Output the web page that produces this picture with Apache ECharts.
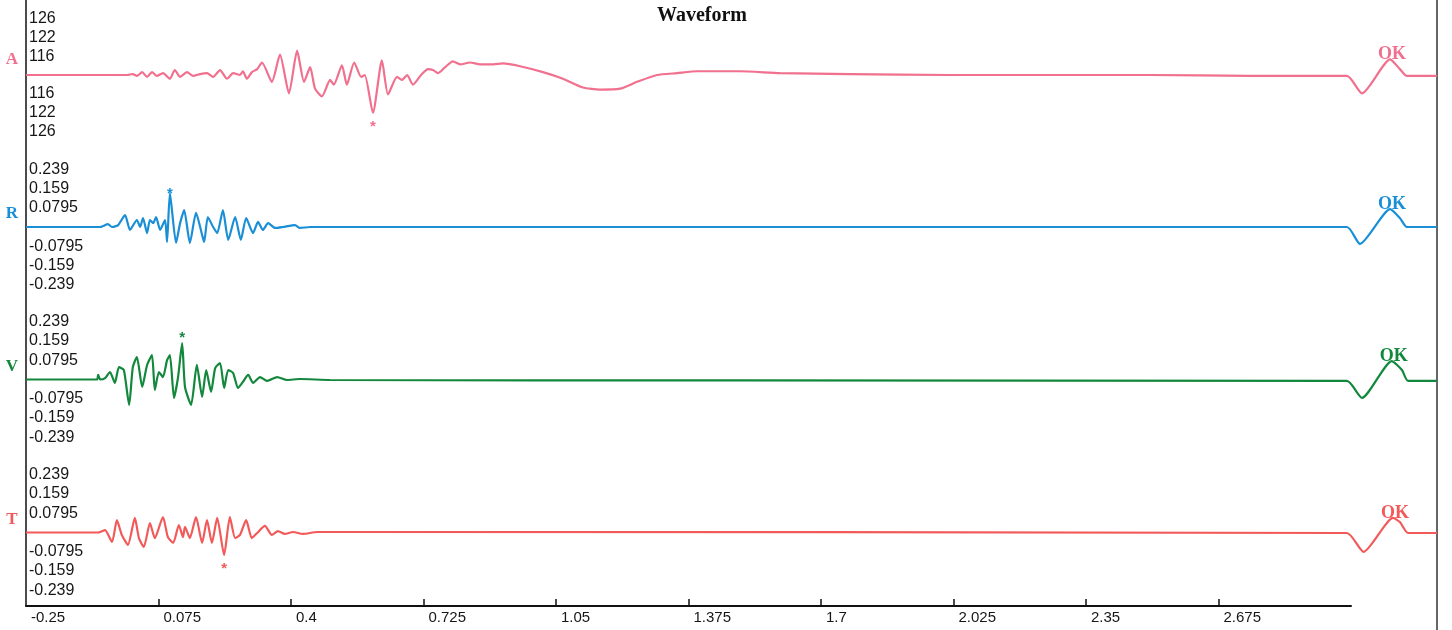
<!DOCTYPE html>
<html>
<head>
<meta charset="utf-8">
<script src="https://cdn.jsdelivr.net/npm/echarts@6/dist/echarts.min.js"></script>
<style>html,body{margin:0;padding:0;background:#fff}#c{width:1452px;height:630px}</style>
</head>
<body>
<div id="c"></div>
<script>
// ---------- data ----------
const channelNames = ['A', 'R', 'V', 'T'];
const channelColors = ['#f0708e', '#1a8fd6', '#13883d', '#f25a5a'];
const titleText = 'Waveform';
const okText = 'OK';
const starText = '*';

// x tick positions / labels (time)
const xLabelValues = [-0.25, 0.075, 0.4, 0.725, 1.05, 1.375, 1.7, 2.025, 2.35, 2.675];
const xTickValues = [0.075, 0.4, 0.725, 1.05, 1.375, 1.7, 2.025, 2.35, 2.675];
const xAxisMin = -0.25;
const xAxisMax = 3.0;
const waveXMax = 3.211;

// y tick positions and the labels printed at them
const yTickValues = [-0.2385, -0.159, -0.0795, 0.0795, 0.159, 0.2385];
const yRange = 0.318;
const aTickLabels = ['126', '122', '116', '116', '122', '126'];
const rvtTickLabels = ['-0.239', '-0.159', '-0.0795', '0.0795', '0.159', '0.239'];

const channelA = [
  [-0.25,0],[-0.002,0],[0.012,0.004],[0.022,-0.004],[0.035,0.012],[0.047,-0.008],[0.059,0.012],
  [0.071,-0.004],[0.086,0.008],[0.103,-0.016],[0.115,0.021],[0.128,-0.008],[0.145,0.012],[0.160,-0.004],
  [0.177,0.004],[0.194,0.008],[0.209,-0.008],[0.226,0.021],[0.243,-0.016],[0.258,0.008],[0.275,0],
  [0.282,0.016],[0.292,-0.016],[0.304,0.012],[0.317,0.025],[0.329,0.053],[0.353,-0.029],[0.373,0.086],
  [0.395,-0.078],[0.415,0.103],[0.432,-0.029],[0.447,0.033],[0.459,-0.058],[0.476,-0.091],[0.496,-0.021],
  [0.505,-0.041],[0.525,0.041],[0.537,-0.041],[0.555,0.053],[0.572,-0.008],[0.581,0],[0.601,-0.160],
  [0.623,0.062],[0.638,-0.082],[0.660,-0.008],[0.672,-0.021],[0.685,0],[0.699,-0.041],[0.721,0.004],
  [0.736,0.025],[0.748,0.021],[0.761,0.008],[0.778,0.033],[0.797,0.058],[0.815,0.045],[0.839,0.053],
  [0.864,0.045],[0.896,0.045],[0.920,0.049],[0.962,0.037],[1.018,0.012],[1.067,-0.016],[1.116,-0.053],
  [1.158,-0.062],[1.207,-0.058],[1.249,-0.029],[1.298,0],[1.347,0.008],[1.396,0.016],[1.428,0.016],
  [1.501,0.016],[1.599,0.008],[1.771,0.004],[2.016,0],[2.262,0],[2.507,0],[2.752,-0.004],[2.990,-0.004],
  [3.027,-0.078],[3.096,0.066],[3.120,0.025],[3.137,-0.004],[3.211,-0.004]
];
const channelR = [
  [-0.25,0],[-0.068,0],[-0.061,0.004],[-0.049,0.012],[-0.039,0],[-0.024,0.008],[-0.007,0.049],
  [0.005,-0.012],[0.022,0.029],[0.030,0],[0.037,0.037],[0.047,-0.025],[0.054,0.029],[0.062,0.016],
  [0.069,0.041],[0.079,-0.012],[0.091,0.029],[0.096,-0.062],[0.103,0.140],[0.118,-0.066],[0.128,0.016],
  [0.138,0.070],[0.152,-0.066],[0.167,0.058],[0.182,-0.033],[0.187,-0.062],[0.196,0.041],[0.209,0],
  [0.219,-0.025],[0.233,0.070],[0.246,-0.053],[0.263,0.041],[0.277,-0.053],[0.290,0.037],[0.307,-0.025],
  [0.319,0.021],[0.331,-0.012],[0.344,0.016],[0.361,-0.004],[0.380,0],[0.410,0.008],[0.422,-0.004],
  [0.447,0],[2.990,0],[3.022,-0.070],[3.096,0.074],[3.120,0.037],[3.137,0],[3.211,0]
];
const channelV = [
  [-0.25,0],[-0.076,0],[-0.073,0.019],[-0.068,0],[-0.056,0.006],[-0.044,0.031],[-0.032,-0.014],
  [-0.022,0.051],[-0.010,0.039],[0.003,-0.105],[0.012,0.051],[0.022,0.093],[0.035,-0.031],[0.047,0.060],
  [0.059,0.101],[0.066,-0.043],[0.076,0.031],[0.086,0.010],[0.096,0.080],[0.103,0.101],[0.113,-0.076],
  [0.123,0.010],[0.133,0.150],[0.140,-0.031],[0.155,-0.105],[0.169,0.060],[0.182,-0.072],[0.192,0.039],
  [0.204,-0.051],[0.214,0.047],[0.226,0.068],[0.236,-0.035],[0.246,0.039],[0.258,0.027],[0.270,-0.035],
  [0.282,-0.010],[0.295,0.019],[0.307,-0.014],[0.324,0.010],[0.341,-0.006],[0.366,0.010],[0.390,-0.002],
  [0.422,0.002],[0.496,-0.002],[1.500,-0.004],[2.990,-0.006],[3.027,-0.076],[3.100,0.076],[3.125,0.039],
  [3.140,-0.006],[3.211,-0.006]
];
const channelT = [
  [-0.25,0],[-0.073,0],[-0.068,0.002],[-0.056,0.010],[-0.039,-0.039],[-0.027,0.051],[-0.015,-0.010],
  [0.000,-0.051],[0.017,0.060],[0.027,-0.023],[0.039,-0.060],[0.054,0.039],[0.066,-0.023],[0.086,0.064],
  [0.098,-0.019],[0.111,-0.043],[0.125,0.031],[0.135,-0.019],[0.140,0.023],[0.152,-0.023],[0.167,0.064],
  [0.182,-0.043],[0.194,0.051],[0.206,-0.043],[0.219,0.060],[0.236,-0.093],[0.250,0.064],[0.263,-0.023],
  [0.275,-0.010],[0.290,0.051],[0.304,-0.023],[0.317,-0.002],[0.336,0.027],[0.353,-0.010],[0.368,0.006],
  [0.385,-0.006],[0.405,0.002],[0.429,-0.006],[0.464,0.002],[2.990,-0.002],[3.031,-0.080],[3.103,0.060],
  [3.120,0.043],[3.140,-0.002],[3.211,-0.002]
];
const channels = [channelA, channelR, channelV, channelT];
const tickLabelSets = [aTickLabels, rvtTickLabels, rvtTickLabels, rvtTickLabels];
const starIsMin = [true, false, false, true];

// ---------- layout ----------
const panelTops = [-4, 150, 302.5, 455.5];
const panelHeight = 154;
const plotLeft = 26;
const waveRight = 15;
const axisRight = 101;
const axisBottom = 24;

function fmtNum(v) { return String(parseFloat(v.toFixed(4))); }

const grids = [], xAxes = [], yAxes = [], series = [], graphics = [];
channels.forEach((data, i) => {
  const labels = tickLabelSets[i];
  grids.push({ left: plotLeft, right: waveRight, top: panelTops[i], height: panelHeight });
  xAxes.push({ type: 'value', gridIndex: i, min: xAxisMin, max: waveXMax, show: false });
  yAxes.push({
    type: 'value', gridIndex: i, min: -yRange, max: yRange,
    axisLine: { show: false }, axisTick: { show: false }, splitLine: { show: false },
    axisLabel: {
      inside: true, margin: 3, customValues: yTickValues,
      fontFamily: 'Liberation Sans', fontSize: 16, color: '#161616',
      formatter: (v) => {
        const k = yTickValues.findIndex(t => Math.abs(t - v) < 1e-6);
        return k >= 0 ? labels[k] : '';
      }
    }
  });
  let sIdx = 0, okIdx = 0;
  data.forEach((p, j) => {
    if (p[0] < 2.9) {
      if (starIsMin[i] ? p[1] < data[sIdx][1] : p[1] > data[sIdx][1]) sIdx = j;
    } else {
      if (okIdx === 0 || p[1] > data[okIdx][1]) okIdx = j;
    }
  });
  const col = channelColors[i];
  series.push({
    type: 'line', xAxisIndex: i, yAxisIndex: i, data: data,
    showSymbol: false, smooth: 0.2, lineStyle: { color: col, width: 2.2 },
    itemStyle: { color: col }, silent: true,
    markPoint: {
      symbol: 'circle', symbolSize: 1, itemStyle: { color: 'rgba(0,0,0,0)' }, silent: true,
      data: [
        { coord: data[sIdx], label: { show: true, formatter: starText, position: 'inside',
          offset: [0, starIsMin[i] ? 14 : (i === 2 ? -5 : 1)], color: col, fontSize: 15,
          fontFamily: 'Liberation Sans', fontWeight: 'bold' } },
        { coord: data[okIdx], label: { show: true, formatter: okText, position: 'inside',
          offset: [2, -5], color: col, fontSize: 18, fontFamily: 'Liberation Serif', fontWeight: 'bold' } }
      ]
    }
  });
  graphics.push({
    type: 'text', x: 12, y: panelTops[i] + panelHeight / 2 - 13,
    style: { text: channelNames[i], fill: col, font: 'bold 17px "Liberation Serif"',
      textAlign: 'center', textVerticalAlign: 'middle' }
  });
});

// bottom time axis grid (spans full height for the left axis line)
grids.push({ left: plotLeft, right: axisRight, top: 0, bottom: axisBottom });
xAxes.push({
  type: 'value', gridIndex: 4, min: xAxisMin, max: xAxisMax,
  axisLine: { show: true, lineStyle: { color: '#111', width: 2 } },
  axisTick: { show: true, inside: true, length: 7, customValues: xTickValues, lineStyle: { color: '#111', width: 1.5 } },
  splitLine: { show: false },
  axisLabel: { customValues: xLabelValues, align: 'left', margin: 4, padding: [0, 0, 0, 5],
    fontFamily: 'Liberation Sans', fontSize: 15, color: '#161616', formatter: fmtNum }
});
yAxes.push({
  type: 'value', gridIndex: 4, min: 0, max: 1,
  axisLine: { show: true, onZero: false, lineStyle: { color: '#111', width: 1.5 } },
  axisTick: { show: false }, axisLabel: { show: false }, splitLine: { show: false }
});
series.push({ type: 'line', xAxisIndex: 4, yAxisIndex: 4, data: [], silent: true });

graphics.push({ type: 'line', shape: { x1: 1437, y1: 0, x2: 1437, y2: 630 },
  style: { stroke: '#333', lineWidth: 1.5 } });

const chart = echarts.init(document.getElementById('c'), null, { renderer: 'canvas' });
chart.setOption({
  animation: false,
  backgroundColor: '#ffffff',
  title: { text: titleText, left: 652, top: 1,
    textStyle: { fontFamily: 'Liberation Serif', fontWeight: 'bold', fontSize: 20, color: '#111' } },
  grid: grids, xAxis: xAxes, yAxis: yAxes, series: series, graphic: graphics
});
</script>
</body>
</html>
